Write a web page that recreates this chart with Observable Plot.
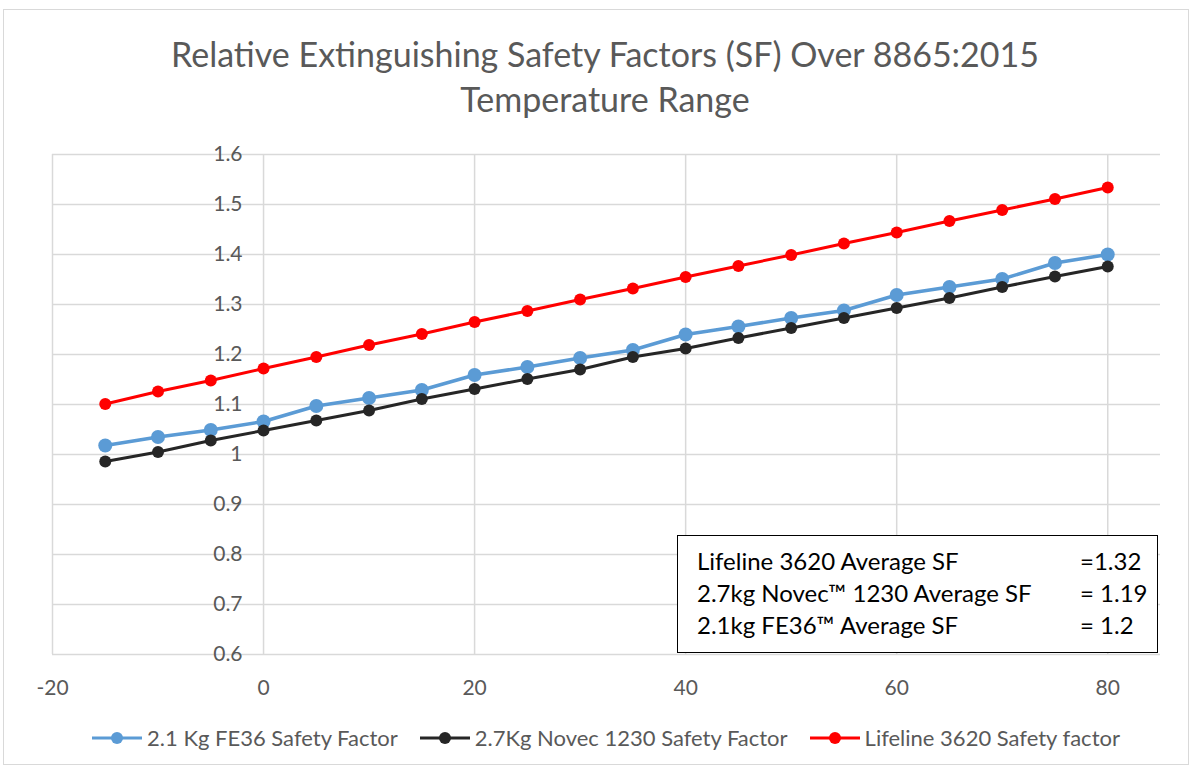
<!DOCTYPE html>
<html><head><meta charset="utf-8">
<script src="https://cdn.jsdelivr.net/npm/d3@7"></script>
<script src="https://cdn.jsdelivr.net/npm/@observablehq/plot@0.6"></script>
<style>
body{margin:0;background:#fff;font-family:Lato,"Open Sans",sans-serif;}
#wrap{position:relative;width:1194px;height:769px;overflow:hidden;}
#frame{position:absolute;left:3px;top:9px;width:1186px;height:756px;border:1.5px solid #d9d9d9;box-sizing:border-box;}
#title{position:absolute;left:0;top:31px;width:1210px;text-align:center;color:#595959;font-size:34px;line-height:45px;}
#plot{position:absolute;left:0;top:130px;}
#legend{position:absolute;left:0;top:724px;width:1212px;display:flex;justify-content:center;gap:22px;font-size:22px;color:#595959;}
.li{display:flex;align-items:center;gap:5px;}
#note{position:absolute;left:677px;top:535px;width:481px;height:118px;border:1.5px solid #000;box-sizing:border-box;background:#fff;font-size:24px;color:#000;padding-top:9px;}
.nr{position:relative;height:32px;line-height:32px;}
.nl{position:absolute;left:19px;}
.nv{position:absolute;left:402px;}
</style>
</head><body>
<div id="wrap">
<div id="frame"></div>
<div id="title"></div>
<div id="plot"></div>
<div id="note"></div>
<div id="legend"></div>
</div>
<script>
const titleLines = ["Relative Extinguishing Safety Factors (SF) Over 8865:2015", "Temperature Range"];
const temps = [-15,-10,-5,0,5,10,15,20,25,30,35,40,45,50,55,60,65,70,75,80];
const fe36 = [1.018,1.035,1.049,1.066,1.097,1.113,1.129,1.159,1.175,1.193,1.209,1.240,1.256,1.273,1.288,1.319,1.335,1.351,1.383,1.400];
const novec = [0.986,1.005,1.028,1.048,1.068,1.088,1.111,1.131,1.151,1.170,1.195,1.212,1.233,1.253,1.273,1.293,1.313,1.335,1.356,1.376];
const lifeline = [1.101,1.126,1.148,1.172,1.195,1.219,1.241,1.265,1.287,1.310,1.332,1.355,1.377,1.399,1.422,1.444,1.467,1.489,1.511,1.534];
const seriesNames = ["2.1 Kg FE36 Safety Factor","2.7Kg Novec 1230 Safety Factor","Lifeline 3620 Safety factor"];
const seriesColors = ["#5b9bd5","#262626","#ff0000"];
const seriesWidths = [3.5,3,3];
const seriesRadii = [7,6,6];
const xTicks = [-20,0,20,40,60,80];
const xTickLabels = ["-20","0","20","40","60","80"];
const yTicks = [0.6,0.7,0.8,0.9,1.0,1.1,1.2,1.3,1.4,1.5,1.6];
const yTickLabels = ["0.6","0.7","0.8","0.9","1","1.1","1.2","1.3","1.4","1.5","1.6"];
const noteLabels = ["Lifeline 3620 Average SF","2.7kg Novec\u2122 1230 Average SF","2.1kg FE36\u2122 Average SF"];
const noteValues = ["=1.32","= 1.19","= 1.2"];

const seriesValues = [fe36, novec, lifeline];
const rows = seriesValues.flatMap((vals, si) => vals.map((v, i) => ({t: temps[i], v, s: seriesNames[si]})));

document.getElementById("title").innerHTML = titleLines.map(l => `<div>${l}</div>`).join("");

const gridStyle = {stroke:"#d9d9d9", strokeOpacity:1, strokeWidth:1.5};
const seriesMarks = seriesNames.flatMap((name, si) => {
  const d = rows.filter(r => r.s === name);
  return [
    Plot.line(d, {x:"t", y:"v", stroke: seriesColors[si], strokeWidth: seriesWidths[si]}),
    Plot.dot(d, {x:"t", y:"v", fill: seriesColors[si], r: seriesRadii[si], stroke:"none"})
  ];
});

const chart = Plot.plot({
  width: 1194, height: 574,
  marginLeft: 52, marginRight: 34, marginTop: 24, marginBottom: 50,
  style: {fontFamily: "Lato, 'Open Sans', sans-serif", background: "transparent", overflow: "visible"},
  x: {domain: [-20, 85], axis: null},
  y: {domain: [0.6, 1.6], axis: null},
  marks: [
    Plot.gridX(xTicks, gridStyle),
    Plot.gridY(yTicks, gridStyle),
    Plot.text(xTicks, {x: d => d, y: () => 0.6, text: (d, i) => xTickLabels[i], dy: 34, fontSize: 21, fill: "#595959"}),
    Plot.text(yTicks, {x: () => 0, y: d => d, text: (d, i) => yTickLabels[i], textAnchor: "end", dx: -21, fontSize: 21, fill: "#595959"}),
    ...seriesMarks
  ]
});
document.getElementById("plot").appendChild(chart);

document.getElementById("note").innerHTML = noteLabels.map((l, i) =>
  `<div class="nr"><span class="nl">${l}</span><span class="nv">${noteValues[i]}</span></div>`).join("");

document.getElementById("legend").innerHTML = seriesNames.map((n, i) =>
  `<div class="li"><svg width="50" height="16"><line x1="0" y1="8" x2="50" y2="8" stroke="${seriesColors[i]}" stroke-width="3"/><circle cx="25" cy="8" r="6" fill="${seriesColors[i]}"/></svg><span>${n}</span></div>`).join("");
</script>
</body></html>
